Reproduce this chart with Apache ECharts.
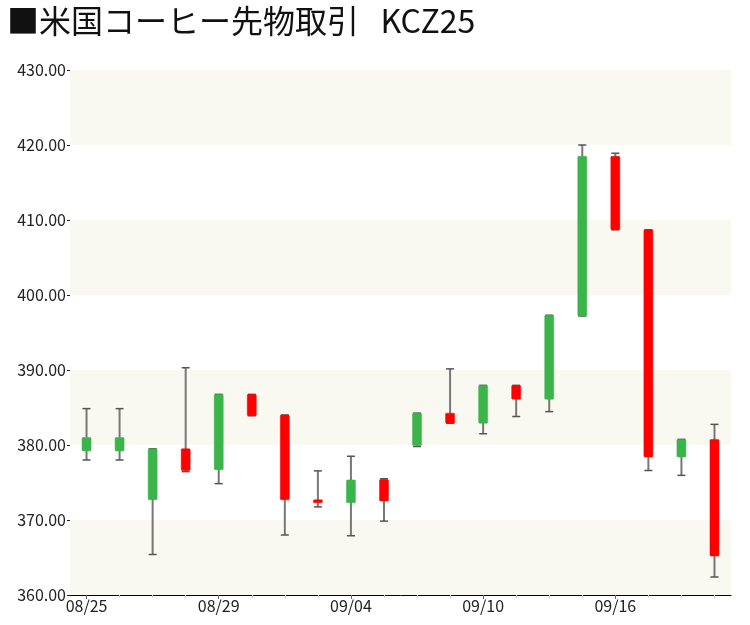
<!DOCTYPE html>
<html>
<head>
<meta charset="utf-8">
<script src="https://cdn.jsdelivr.net/npm/echarts@6/dist/echarts.min.js"></script>
<style>
html,body{margin:0;padding:0;background:#fff;}
#chart{width:750px;height:625px;}
</style>
</head>
<body>
<div id="chart"></div>
<script>
var titleText = '■米国コーヒー先物取引   KCZ25';
var dates = ['08/25','08/26','08/27','08/28','08/29','09/01','09/02','09/03','09/04','09/05',
             '09/08','09/09','09/10','09/11','09/12','09/15','09/16','09/17','09/18','09/19'];
var opens  = [379.2, 379.2, 372.7, 379.5, 376.7, 386.75, 384.0, 372.7, 372.3, 375.4,
              379.95, 384.25, 382.9, 387.95, 386.1, 397.2, 418.5, 408.7, 378.4, 380.75];
var closes = [381.0, 381.0, 379.5, 376.6, 386.75, 383.9, 372.7, 372.3, 375.35, 372.55,
              384.25, 382.9, 387.95, 386.1, 397.3, 418.5, 408.7, 378.4, 380.75, 365.2];
var lows   = [378.0, 378.0, 365.4, 376.45, 374.85, 383.9, 368.0, 371.75, 367.9, 369.85,
              379.8, 382.9, 381.5, 383.8, 384.45, 397.2, 408.7, 376.6, 375.95, 362.4];
var highs  = [384.85, 384.85, 379.5, 390.3, 386.75, 386.75, 384.0, 376.55, 378.5, 375.5,
              384.25, 390.15, 387.95, 387.95, 397.3, 420.0, 418.9, 408.7, 380.75, 382.75];
var yTicks = [360, 370, 380, 390, 400, 410, 420, 430];

var FONT = '"Noto Sans CJK JP", "Noto Sans", sans-serif';
var UP = '#3bb54a', DOWN = '#ff0000', WICK = '#777777';

var seriesData = dates.map(function (d, i) {
  return [i, opens[i], closes[i], lows[i], highs[i]];
});

function renderItem(params, api) {
  var i = api.value(0);
  var o = api.value(1), c = api.value(2), l = api.value(3), h = api.value(4);
  var pO = api.coord([i, o]), pC = api.coord([i, c]);
  var pL = api.coord([i, l]), pH = api.coord([i, h]);
  var x = pO[0];
  var bw = 9, cw = 8;
  var top = Math.min(pO[1], pC[1]), bot = Math.max(pO[1], pC[1]);
  var col = c >= o ? UP : DOWN;
  return {
    type: 'group',
    children: [
      {type: 'line', shape: {x1: x, y1: pH[1], x2: x, y2: pL[1]}, style: {stroke: WICK, lineWidth: 2}},
      {type: 'line', shape: {x1: x - cw / 2, y1: pH[1], x2: x + cw / 2, y2: pH[1]}, style: {stroke: '#555', lineWidth: 1.5}},
      {type: 'line', shape: {x1: x - cw / 2, y1: pL[1], x2: x + cw / 2, y2: pL[1]}, style: {stroke: '#555', lineWidth: 1.5}},
      {type: 'rect', shape: {x: x - bw / 2, y: top, width: bw, height: Math.max(bot - top, 2), r: 1},
       style: {fill: col, stroke: col, lineWidth: 0.5}}
    ]
  };
}

var chart = echarts.init(document.getElementById('chart'), null, {renderer: 'canvas'});
chart.setOption({
  animation: false,
  backgroundColor: '#ffffff',
  title: {
    text: titleText,
    left: 2, top: 0,
    textStyle: {fontFamily: FONT, fontSize: 32, fontWeight: 'normal', color: '#111'}
  },
  grid: {left: 70, right: 19, top: 70, bottom: 30},
  xAxis: [{
    type: 'category',
    data: dates,
    boundaryGap: true,
    axisLine: {lineStyle: {color: '#000', width: 1}},
    axisTick: {show: true, interval: 0, alignWithLabel: true, length: 3, lineStyle: {color: '#cccccc'}},
    axisLabel: {interval: 3, fontFamily: FONT, fontSize: 16, color: '#222', margin: 3},
    splitLine: {show: false}
  }, {
    type: 'category',
    data: dates,
    position: 'bottom',
    boundaryGap: true,
    axisLine: {show: false},
    axisTick: {show: true, interval: 3, alignWithLabel: true, length: 4, lineStyle: {color: '#666'}},
    axisLabel: {show: false},
    splitLine: {show: false}
  }],
  yAxis: {
    type: 'value',
    min: 360, max: 430, interval: 10,
    axisLine: {show: false},
    axisTick: {show: true, length: 3, lineStyle: {color: '#222'}},
    axisLabel: {
      fontFamily: FONT, fontSize: 16, color: '#222', margin: 4,
      formatter: function (v) { return v.toFixed(2); }
    },
    splitLine: {show: false},
    splitArea: {show: true, areaStyle: {color: ['#f9f9f1', '#ffffff']}}
  },
  series: [{
    type: 'custom',
    renderItem: renderItem,
    xAxisIndex: 0,
    encode: {x: 0, y: [1, 2, 3, 4]},
    data: seriesData
  }]
});
</script>
</body>
</html>
